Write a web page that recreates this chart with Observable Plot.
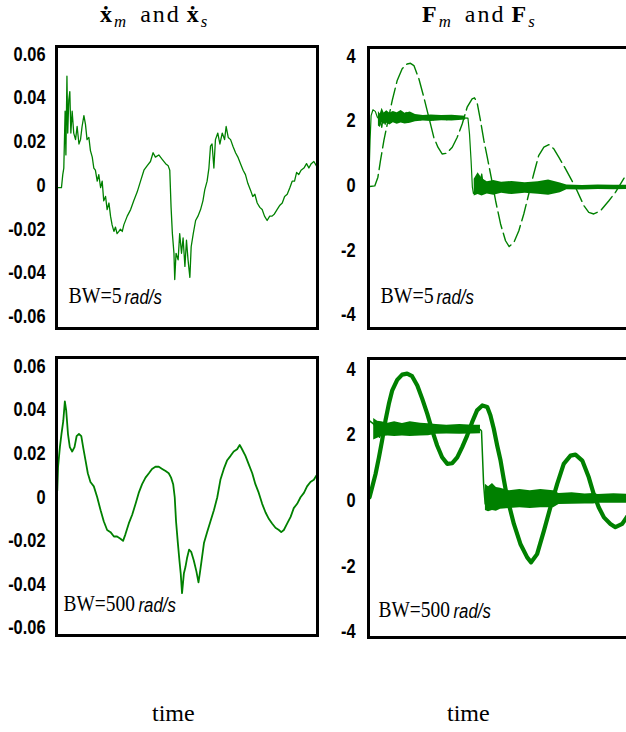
<!DOCTYPE html>
<html><head><meta charset="utf-8">
<script src="https://cdn.jsdelivr.net/npm/d3@7"></script>
<script src="https://cdn.jsdelivr.net/npm/@observablehq/plot@0.6"></script>
<style>
html,body{margin:0;padding:0;background:#fff;overflow:hidden;}
#fig{position:relative;width:626px;height:732px;overflow:hidden;background:#fff;}
.panel{position:absolute;}
.title,.xlab{position:absolute;font-family:"Liberation Serif","DejaVu Serif",serif;white-space:nowrap;color:#000;}
.xlab{font-size:24px;line-height:24px;}
.title{font-size:24px;line-height:27px;letter-spacing:2px;}
.title sub{font-size:70%;font-style:italic;vertical-align:-0.3em;line-height:0;}
.g1{display:inline-block;width:12px;}
.g2{display:inline-block;width:6px;}
</style></head>
<body><div id="fig">
<div class="title" style="left:100px;top:1px"><b>ẋ</b><sub>m</sub><span class="g1"></span>and<span class="g2"></span><b>ẋ</b><sub>s</sub></div>
<div class="title" style="left:422px;top:1px"><b>F</b><sub>m</sub><span class="g1"></span>and<span class="g2"></span><b>F</b><sub>s</sub></div>
<div class="xlab" style="left:152px;top:701px">time</div>
<div class="xlab" style="left:447px;top:701px">time</div>
</div>
<script>
// ---------- data (time in arbitrary units 0..10) ----------
const velTicks = [-0.06, -0.04, -0.02, 0, 0.02, 0.04, 0.06];
const forceTicks = [-4, -2, 0, 2, 4];
const bwLabels = ["BW=5", "BW=500"];
const unitLabel = "rad/s";

// velocity, BW = 5 rad/s  [t, value]
const velBW5 = [[0.03,-0.001],[0.19,-0.001],[0.24,0.005],[0.28,0.008],[0.33,0.034],[0.36,0.014],[0.40,0.050],[0.43,0.024],[0.47,0.039],[0.51,0.043],[0.55,0.024],[0.60,0.034],[0.66,0.024],[0.73,0.021],[0.79,0.027],[0.86,0.019],[0.92,0.021],[0.98,0.027],[1.05,0.032],[1.11,0.028],[1.17,0.021],[1.24,0.022],[1.30,0.016],[1.37,0.013],[1.43,0.008],[1.49,0.007],[1.56,0.002],[1.62,0.005],[1.69,-0.001],[1.75,0.002],[1.81,-0.007],[1.88,-0.005],[1.94,-0.011],[2.01,-0.008],[2.07,-0.014],[2.13,-0.018],[2.20,-0.021],[2.26,-0.019],[2.32,-0.022],[2.39,-0.021],[2.45,-0.020],[2.52,-0.021],[2.58,-0.018],[2.71,-0.014],[2.84,-0.011],[2.96,-0.007],[3.09,-0.003],[3.22,0.002],[3.35,0.007],[3.47,0.009],[3.60,0.011],[3.70,0.015],[3.79,0.013],[3.92,0.014],[4.05,0.012],[4.18,0.010],[4.28,0.009],[4.34,0.007],[4.39,-0.010],[4.44,-0.022],[4.50,-0.031],[4.53,-0.043],[4.58,-0.031],[4.66,-0.034],[4.72,-0.022],[4.79,-0.031],[4.85,-0.024],[4.92,-0.037],[4.98,-0.025],[5.04,-0.034],[5.11,-0.042],[5.16,-0.028],[5.24,-0.022],[5.33,-0.016],[5.42,-0.014],[5.52,-0.011],[5.61,-0.007],[5.68,-0.002],[5.77,0.002],[5.84,0.008],[5.90,0.018],[5.96,0.019],[6.03,0.008],[6.09,0.021],[6.18,0.024],[6.26,0.019],[6.35,0.024],[6.44,0.021],[6.50,0.027],[6.58,0.022],[6.67,0.021],[6.76,0.018],[6.86,0.015],[6.95,0.013],[7.05,0.010],[7.15,0.007],[7.24,0.005],[7.33,0.001],[7.43,-0.002],[7.52,-0.005],[7.60,-0.004],[7.69,-0.008],[7.79,-0.010],[7.88,-0.011],[7.97,-0.014],[8.07,-0.016],[8.17,-0.014],[8.26,-0.014],[8.35,-0.013],[8.45,-0.011],[8.56,-0.009],[8.65,-0.008],[8.74,-0.005],[8.84,-0.004],[8.94,-0.001],[9.03,0.002],[9.12,0.002],[9.20,0.006],[9.28,0.005],[9.37,0.007],[9.48,0.008],[9.58,0.010],[9.67,0.008],[9.76,0.010],[9.86,0.011],[9.96,0.009]];

// velocity, BW = 500 rad/s
const velBW500 = [[0.03,0.003],[0.06,0.014],[0.13,0.023],[0.19,0.029],[0.26,0.035],[0.32,0.044],[0.37,0.040],[0.44,0.029],[0.51,0.023],[0.60,0.021],[0.69,0.023],[0.77,0.028],[0.86,0.029],[0.95,0.028],[1.02,0.023],[1.11,0.017],[1.20,0.011],[1.30,0.007],[1.43,0.005],[1.56,0.000],[1.69,-0.006],[1.81,-0.011],[1.94,-0.015],[2.07,-0.016],[2.20,-0.018],[2.32,-0.018],[2.45,-0.019],[2.55,-0.020],[2.64,-0.017],[2.77,-0.012],[2.90,-0.008],[3.03,-0.003],[3.15,0.002],[3.28,0.006],[3.41,0.009],[3.54,0.011],[3.66,0.013],[3.79,0.014],[3.92,0.014],[4.05,0.013],[4.18,0.012],[4.30,0.011],[4.39,0.009],[4.47,0.006],[4.53,0.000],[4.58,-0.011],[4.65,-0.021],[4.71,-0.029],[4.76,-0.035],[4.81,-0.044],[4.88,-0.035],[4.94,-0.032],[5.00,-0.028],[5.08,-0.024],[5.16,-0.025],[5.26,-0.029],[5.36,-0.034],[5.44,-0.039],[5.49,-0.035],[5.56,-0.029],[5.65,-0.021],[5.77,-0.016],[5.90,-0.011],[6.03,-0.006],[6.16,0.000],[6.28,0.008],[6.41,0.013],[6.54,0.017],[6.67,0.019],[6.79,0.021],[6.92,0.022],[7.02,0.024],[7.11,0.022],[7.24,0.019],[7.37,0.015],[7.50,0.011],[7.62,0.006],[7.75,0.002],[7.88,-0.003],[8.01,-0.007],[8.14,-0.010],[8.26,-0.012],[8.39,-0.014],[8.52,-0.015],[8.61,-0.016],[8.71,-0.015],[8.84,-0.012],[8.97,-0.009],[9.09,-0.005],[9.22,-0.003],[9.35,0.000],[9.48,0.002],[9.60,0.005],[9.73,0.007],[9.86,0.008],[9.96,0.010]];

// force (step-like), BW = 5 rad/s
const forceStepBW5 = [[0.03,0.57],[0.06,1.40],[0.10,2.17],[0.17,2.35],[0.26,2.30],[0.34,2.12],[0.45,2.01],[0.51,1.80],[0.57,2.16],[0.64,1.90],[0.70,2.21],[0.79,1.96],[0.87,2.27],[0.96,2.01],[1.06,2.16],[1.15,2.01],[1.25,2.21],[1.34,1.98],[1.44,2.27],[1.53,1.96],[1.63,2.16],[1.72,2.04],[1.85,2.14],[1.98,2.04],[2.11,2.11],[2.23,2.06],[2.36,2.11],[2.49,2.04],[2.62,2.11],[2.75,2.06],[2.87,2.10],[3.00,2.04],[3.13,2.14],[3.26,2.06],[3.38,2.11],[3.51,2.08],[3.64,2.10],[3.81,2.09],[3.87,1.60],[3.93,0.78],[3.98,-0.05],[4.02,-0.24],[4.09,-0.16],[4.18,-0.05],[4.28,0.16],[4.34,0.36],[4.41,-0.05],[4.47,0.10],[4.53,-0.21],[4.64,0.00],[4.73,-0.18],[4.85,0.03],[4.98,-0.16],[5.11,-0.01],[5.24,-0.13],[5.36,-0.03],[5.49,-0.16],[5.62,-0.03],[5.75,-0.13],[5.88,-0.05],[6.00,-0.12],[6.13,-0.03],[6.26,-0.13],[6.39,-0.03],[6.51,-0.11],[6.64,0.00],[6.77,-0.13],[6.90,0.03],[7.02,-0.12],[7.15,-0.03],[7.34,-0.09],[7.54,-0.05],[7.73,-0.09],[7.92,-0.05],[8.11,-0.08],[8.30,-0.05],[8.49,-0.08],[8.68,-0.05],[8.88,-0.08],[9.07,-0.05],[9.26,-0.07],[9.45,-0.04],[9.64,-0.06],[9.87,-0.05],[10,-0.05]];
// noise envelope of the step-like force, BW = 5 [t, low, high]
const forceNoiseBW5a = [[0.38,1.85,2.30],[0.45,1.80,2.22],[0.52,1.95,2.40],[0.60,1.90,2.25],[0.70,1.93,2.32],[0.82,1.88,2.24],[0.95,1.95,2.30],[1.10,1.90,2.26],[1.25,1.94,2.33],[1.40,1.91,2.24],[1.60,1.93,2.28],[1.80,1.98,2.20],[2.10,2.00,2.17],[2.40,1.99,2.19],[2.80,2.01,2.17],[3.20,2.00,2.18],[3.72,2.03,2.15]];
const forceNoiseBW5b = [[4.05,-0.32,0.20],[4.20,-0.28,0.40],[4.35,-0.32,0.22],[4.55,-0.26,0.12],[4.80,-0.30,0.16],[5.10,-0.24,0.10],[5.50,-0.28,0.13],[6.00,-0.24,0.09],[6.50,-0.27,0.12],[6.90,-0.30,0.17],[7.35,-0.22,0.08],[7.60,-0.13,0.02],[8.20,-0.14,0.00],[8.80,-0.12,0.02],[9.40,-0.13,0.01],[10,-0.12,0.01]];
// force (oscillating), BW = 5 rad/s
const forceOscBW5 = [[0.05,-0.03],[0.24,-0.01],[0.36,0.26],[0.46,0.78],[0.59,1.40],[0.72,1.91],[0.91,2.64],[1.10,3.26],[1.29,3.62],[1.48,3.77],[1.61,3.79],[1.74,3.72],[1.93,3.31],[2.12,2.74],[2.31,2.12],[2.50,1.50],[2.66,1.19],[2.82,0.98],[2.99,1.00],[3.21,1.19],[3.40,1.50],[3.59,1.91],[3.78,2.43],[3.97,2.69],[4.06,2.72],[4.16,2.58],[4.29,2.02],[4.42,1.40],[4.55,0.88],[4.70,0.26],[4.87,-0.47],[5.06,-1.19],[5.25,-1.71],[5.39,-1.89],[5.57,-1.76],[5.76,-1.40],[5.95,-0.88],[6.14,-0.26],[6.33,0.36],[6.52,0.93],[6.72,1.19],[6.91,1.27],[7.10,1.14],[7.29,0.88],[7.55,0.52],[7.93,-0.05],[8.25,-0.62],[8.44,-0.83],[8.63,-0.88],[8.89,-0.78],[9.21,-0.47],[9.46,-0.21],[9.89,0.36],[10,0.45]];

// force (step-like), BW = 500 rad/s
const forceStepBW500 = [[0.03,2.44],[0.19,2.34],[0.32,2.19],[0.42,1.93],[0.51,2.12],[0.64,2.18],[1.0,2.17],[1.5,2.18],[2.0,2.17],[2.5,2.17],[3.0,2.17],[3.5,2.17],[4.0,2.17],[4.28,2.17],[4.33,2.12],[4.41,0.51],[4.47,-0.10],[4.53,0.05],[5.0,0.06],[6.0,0.05],[7.0,0.06],[8.0,0.05],[9.0,0.06],[10,0.06]];
const forceNoiseBW500a = [[0.20,1.85,2.50],[0.35,1.90,2.42],[0.50,1.95,2.40],[0.75,1.97,2.36],[1.00,1.95,2.40],[1.30,1.97,2.35],[1.60,1.95,2.40],[2.00,1.97,2.36],[2.30,1.98,2.34],[2.60,2.02,2.32],[3.00,2.03,2.30],[3.50,2.02,2.32],[4.00,2.03,2.30],[4.29,2.04,2.30]];
const forceNoiseBW500b = [[4.48,-0.30,0.50],[4.60,-0.34,0.42],[4.75,-0.30,0.52],[4.90,-0.32,0.40],[5.06,-0.26,0.38],[5.40,-0.24,0.30],[5.80,-0.22,0.34],[6.20,-0.24,0.30],[6.60,-0.22,0.34],[7.09,-0.22,0.30],[7.30,-0.12,0.22],[7.80,-0.11,0.24],[8.30,-0.10,0.20],[8.62,-0.10,0.22],[8.80,-0.08,0.19],[9.40,-0.08,0.21],[10,-0.08,0.19]];
// force (oscillating), BW = 500 rad/s
const forceOscBW500 = [[0.04,0.10],[0.14,0.41],[0.27,0.81],[0.40,1.32],[0.52,1.83],[0.65,2.44],[0.78,2.95],[0.91,3.36],[1.10,3.68],[1.29,3.84],[1.48,3.87],[1.67,3.79],[1.87,3.51],[2.06,3.10],[2.25,2.65],[2.44,2.14],[2.63,1.68],[2.82,1.32],[3.02,1.12],[3.21,1.14],[3.40,1.32],[3.59,1.63],[3.78,1.98],[3.97,2.39],[4.16,2.75],[4.36,2.90],[4.55,2.85],[4.67,2.60],[4.80,2.19],[4.93,1.68],[5.06,1.22],[5.18,0.66],[5.31,0.10],[5.57,-0.71],[5.82,-1.32],[6.08,-1.73],[6.23,-1.88],[6.46,-1.63],[6.72,-0.92],[6.97,-0.20],[7.23,0.51],[7.48,1.12],[7.74,1.37],[7.93,1.40],[8.19,1.22],[8.44,0.71],[8.63,0.20],[8.82,-0.20],[9.02,-0.51],[9.27,-0.71],[9.46,-0.81],[9.72,-0.71],[9.89,-0.51],[10,-0.40]];

// ---------- drawing ----------
const GREEN = "#008000";
const TICKFONT = '"Liberation Sans Narrow","Arial Narrow","Liberation Sans",sans-serif';
const SERIF = '"Liberation Serif","DejaVu Serif",serif';
const SANS = '"Liberation Sans",sans-serif';

const pts = (pairs) => pairs.map(([t, v]) => ({t, v}));
const band = (trips, seg) => trips.map(([t, lo, hi]) => ({t, lo, hi, seg}));
const fmtVel = d => d === 0 ? "0" : d.toFixed(2);
const fmtF = d => String(d);

function squeeze(el, k) {
  const t = el.getAttribute("transform") || "";
  el.setAttribute("transform", (t + " scale(" + k + ",1)").trim());
}

function panel({left, top, width, height, m, yDomain, ticks, fmt, padding, marks, bw, bwK, bwDx, unitDx, labDy}) {
  const svg = Plot.plot({
    width, height,
    marginTop: m[0], marginRight: m[1], marginBottom: m[2], marginLeft: m[3],
    style: {background: "transparent", overflow: "visible"},
    x: {domain: [0, 10], axis: null},
    y: {domain: yDomain},
    marks: [
      Plot.axisY({ticks, tickFormat: fmt, tickSize: 0, tickPadding: padding, label: null,
        fontSize: 20, fontWeight: "bold", fontFamily: TICKFONT, fill: "#000"}),
      ...marks,
      Plot.frame({stroke: "#000", strokeWidth: 3}),
      Plot.text([bw], {frameAnchor: "bottom-left", textAnchor: "start", dx: bwDx, dy: labDy,
        fontFamily: SERIF, fontSize: 24, fill: "#000"}),
      Plot.text([unitLabel], {frameAnchor: "bottom-left", textAnchor: "start", dx: unitDx, dy: labDy + 1,
        fontFamily: SANS, fontSize: 21, fontStyle: "italic", fill: "#000"})
    ]
  });
  svg.classList.add("panel");
  svg.style.left = left + "px";
  svg.style.top = top + "px";
  svg.style.position = "absolute";
  document.getElementById("fig").appendChild(svg);
  d3.select(svg).selectAll("text").each(function() {
    const s = this.textContent;
    if (s === bw) squeeze(this, bwK);
    if (s === unitLabel) squeeze(this, 0.8);
  });
  // condensed look for the tick labels
  d3.select(svg).selectAll('g[aria-label="y-axis tick label"] text').each(function() { squeeze(this, 0.82); });
}

// top-left: velocities, BW 5
panel({left: 0, top: 40, width: 320, height: 300, m: [6, 3, 12, 56],
  yDomain: [-0.0654, 0.0636], ticks: velTicks, fmt: fmtVel, padding: 11,
  marks: [Plot.line(pts(velBW5), {x: "t", y: "v", stroke: GREEN, strokeWidth: 1.3, clip: true})],
  bw: bwLabels[0], bwK: 0.83, bwDx: 12, unitDx: 68, labDy: -26});

// top-right: forces, BW 5
panel({left: 320, top: 40, width: 320, height: 300, m: [7, 11, 12, 48],
  yDomain: [-4.43, 4.28], ticks: forceTicks, fmt: fmtF, padding: 13,
  marks: [
    Plot.areaY([...band(forceNoiseBW5a, "a"), ...band(forceNoiseBW5b, "b")], {x: "t", y1: "lo", y2: "hi", z: "seg", fill: GREEN, clip: true}),
    Plot.line(pts(forceStepBW5), {x: "t", y: "v", stroke: GREEN, strokeWidth: 1.2, clip: true}),
    Plot.line(pts(forceOscBW5), {x: "t", y: "v", stroke: GREEN, strokeWidth: 1.4, strokeDasharray: "17,5", clip: true})
  ],
  bw: bwLabels[0], bwK: 0.83, bwDx: 12, unitDx: 68, labDy: -26});

// bottom-left: velocities, BW 500
panel({left: 0, top: 340, width: 320, height: 300, m: [17, 3, 5, 56],
  yDomain: [-0.0634, 0.0641], ticks: velTicks, fmt: fmtVel, padding: 11,
  marks: [Plot.line(pts(velBW500), {x: "t", y: "v", stroke: GREEN, strokeWidth: 1.8, clip: true})],
  bw: bwLabels[1], bwK: 0.81, bwDx: 7, unitDx: 82, labDy: -25});

// bottom-right: forces, BW 500
panel({left: 320, top: 340, width: 320, height: 300, m: [18, 11, 3, 48],
  yDomain: [-4.17, 4.33], ticks: forceTicks, fmt: fmtF, padding: 13,
  marks: [
    Plot.areaY([...band(forceNoiseBW500a, "a"), ...band(forceNoiseBW500b, "b")], {x: "t", y1: "lo", y2: "hi", z: "seg", fill: GREEN, clip: true}),
    Plot.line(pts(forceStepBW500), {x: "t", y: "v", stroke: GREEN, strokeWidth: 1.5, clip: true}),
    Plot.line(pts(forceOscBW500), {x: "t", y: "v", stroke: GREEN, strokeWidth: 4.2, clip: true})
  ],
  bw: bwLabels[1], bwK: 0.81, bwDx: 10, unitDx: 85, labDy: -21});
</script>
</body></html>
